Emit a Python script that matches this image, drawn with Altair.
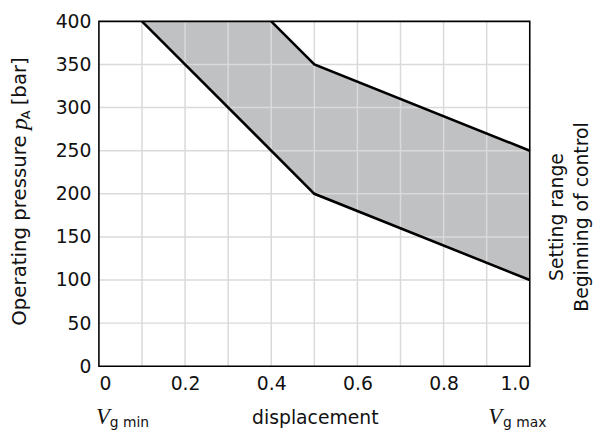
import altair as alt
import pandas as pd

# ---- data ----
x_upper = [0.4, 0.5, 1.0]          # upper boundary
p_upper = [400, 350, 250]
x_lower = [0.1, 0.5, 1.0]          # lower boundary
p_lower = [400, 200, 100]

x_ticks = [0, 0.2, 0.4, 0.6, 0.8, 1.0]
y_ticks = [0, 50, 100, 150, 200, 250, 300, 350, 400]
x_grid = [0.1, 0.2, 0.3, 0.4, 0.5, 0.6, 0.7, 0.8, 0.9]
y_grid = [50, 100, 150, 200, 250, 300, 350]

right_labels = ["Setting range", "Beginning of control"]

W, H = 436, 349
FONT = "DejaVu Sans"
FS = 19
SERIF = "Liberation Serif"

upper = pd.DataFrame({"x": x_upper, "p": p_upper})
lower = pd.DataFrame({"x": x_lower, "p": p_lower})
# gray region top: from the lower boundary's start along the top edge, then the upper line
gray_top = pd.DataFrame({"x": [x_lower[0]] + x_upper, "p": [p_lower[0]] + p_upper})

xs = alt.Scale(domain=[0, 1], nice=False, zero=False)
ys = alt.Scale(domain=[0, 400], nice=False)

x_axis = alt.Axis(values=x_ticks, grid=False, ticks=False, domain=False,
                  labelExpr="datum.value == 0 ? '0' : format(datum.value, '.1f')",
                  labelFont=FONT, labelFontSize=FS, labelColor="#111", labelPadding=9,
                  title=None)
y_axis = alt.Axis(values=y_ticks, grid=False, ticks=False, domain=False,
                  labelFont=FONT, labelFontSize=FS, labelColor="#111", labelPadding=8,
                  title=None)

gray = alt.Chart(gray_top).mark_area(color="#c0c1c3", opacity=1).encode(
    x=alt.X("x:Q", scale=xs, axis=x_axis),
    y=alt.Y("p:Q", scale=ys, axis=y_axis),
)
white = alt.Chart(lower).mark_area(color="white", opacity=1).encode(
    x=alt.X("x:Q", scale=xs), y=alt.Y("p:Q", scale=ys)
)

vgrid = alt.Chart(pd.DataFrame({"x": x_grid})).mark_rule(color="#dadada", strokeWidth=1.5).encode(
    x=alt.X("x:Q", scale=xs)
)
hgrid = alt.Chart(pd.DataFrame({"p": y_grid})).mark_rule(color="#dadada", strokeWidth=1.5).encode(
    y=alt.Y("p:Q", scale=ys)
)

line_up = alt.Chart(upper).mark_line(color="black", strokeWidth=2.6).encode(
    x=alt.X("x:Q", scale=xs), y=alt.Y("p:Q", scale=ys)
)
line_lo = alt.Chart(lower).mark_line(color="black", strokeWidth=2.6).encode(
    x=alt.X("x:Q", scale=xs), y=alt.Y("p:Q", scale=ys)
)

frame = alt.Chart(pd.DataFrame({"a": [0]})).mark_rect(
    filled=False, stroke="black", strokeWidth=1.6
).encode(x=alt.value(0), x2=alt.value(W), y=alt.value(0), y2=alt.value(H))


def txt(text, x, y, font=FONT, size=FS, angle=0, align="left", baseline="alphabetic",
        style="normal"):
    return alt.Chart(pd.DataFrame({"t": [text]})).mark_text(
        font=font, fontSize=size, angle=angle, align=align, baseline=baseline,
        fontStyle=style, color="#111"
    ).encode(x=alt.value(x), y=alt.value(y), text="t:N")


texts = [
    # y-axis title: Operating pressure p_A [bar]
    txt("Operating pressure", -80, 308, size=20, angle=270, baseline="middle"),
    txt("p", -80, 110, font=SERIF, size=24, angle=270, baseline="middle", style="italic"),
    txt("A", -74, 99, size=13, angle=270, baseline="middle"),
    txt("[bar]", -80, 85, size=20, angle=270, baseline="middle"),
    # bottom labels
    txt("V", -3, 407, font=SERIF, size=23, style="italic"),
    txt("g min", 11, 410, size=14),
    txt("displacement", 219, 407, align="center"),
    txt("V", 394, 407, font=SERIF, size=23, style="italic"),
    txt("g max", 409, 410, size=14),
    # right labels
    txt(right_labels[0], 464, 198, angle=270, align="center", baseline="middle"),
    txt(right_labels[1], 489, 198, angle=270, align="center", baseline="middle"),
]

chart = alt.layer(gray, white, vgrid, hgrid, line_up, line_lo, frame, *texts).properties(
    width=W, height=H,
    autosize=alt.AutoSizeParams(type="none"),
    padding={"left": 92, "top": 11, "right": 64, "bottom": 62},
).configure_view(stroke=None)

chart.save("out.html", embed_options={"renderer": "svg", "actions": False})
